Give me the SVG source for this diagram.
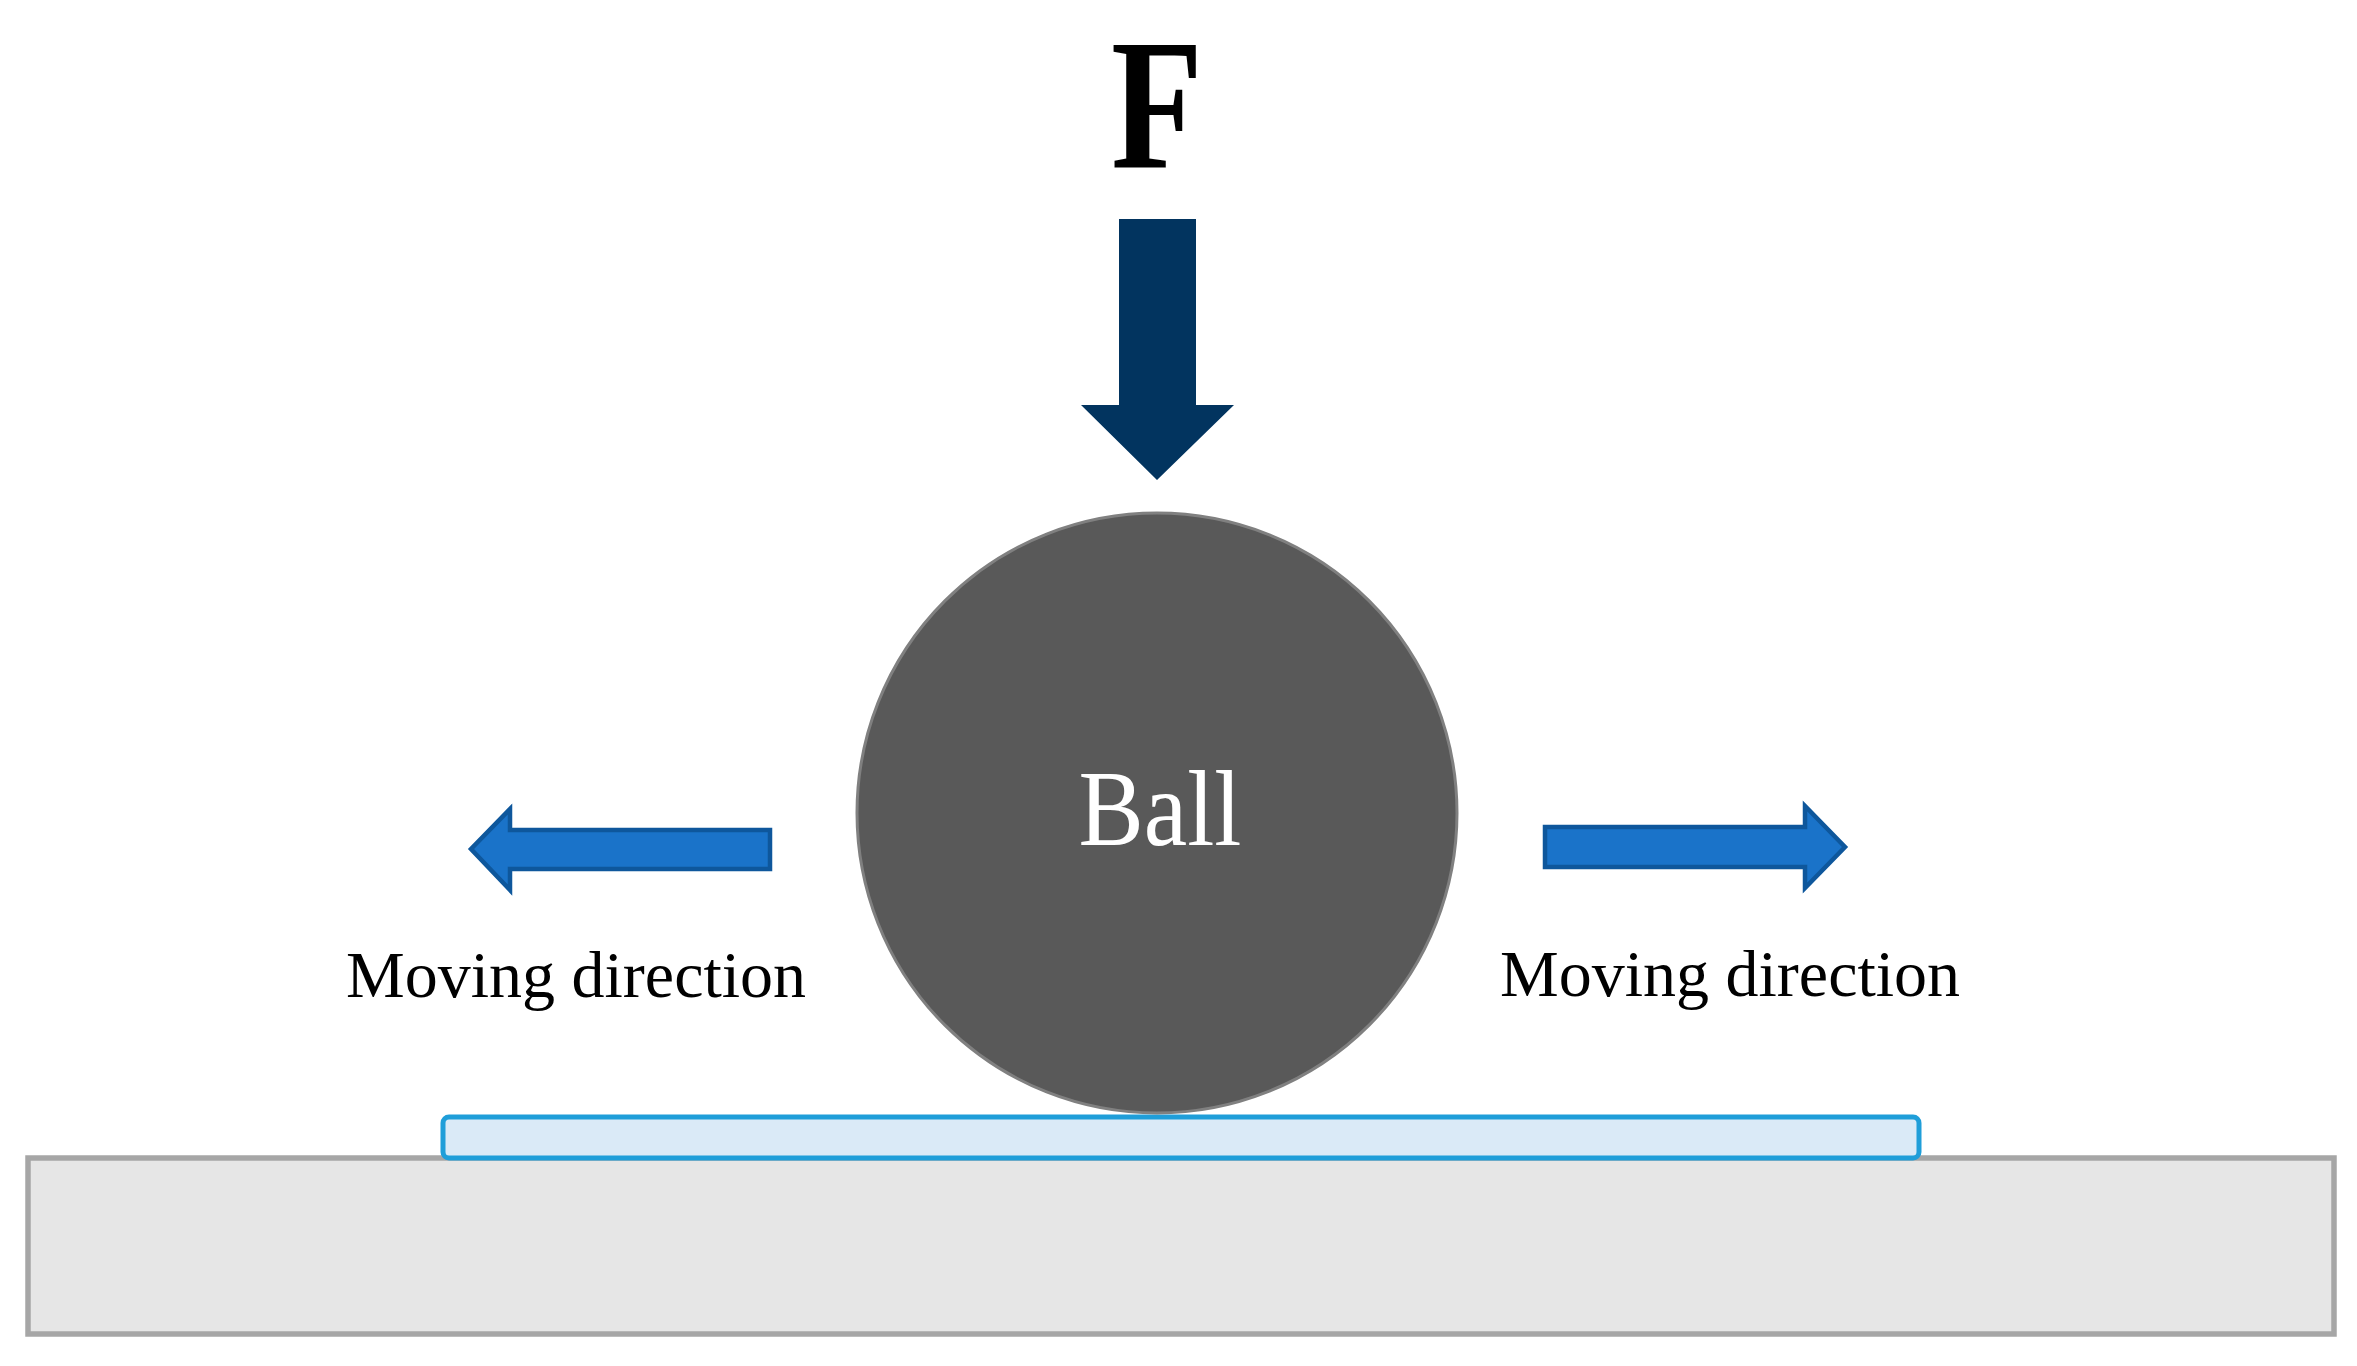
<svg xmlns="http://www.w3.org/2000/svg" width="2357" height="1366" viewBox="0 0 2357 1366">
<style>
.lbl{font-family:"Liberation Serif","Times New Roman",serif;font-size:66px;fill:#000}
.dir{fill:#1a73c9;stroke:#0e579c;stroke-width:4.5;stroke-linejoin:miter}
</style>
<rect width="2357" height="1366" fill="#fff"/>
<g id="ground"><rect x="28" y="1158" width="2306" height="176" fill="#e6e6e6" stroke="#a6a6a6" stroke-width="5.5"/></g>
<g id="layer"><rect x="443" y="1117" width="1476" height="41" rx="6" fill="#daeaf7" stroke="#1f9ed9" stroke-width="5"/></g>
<g id="ball">
<circle cx="1157" cy="813" r="300" fill="#595959" stroke="#808080" stroke-width="3"/>
<text x="1160" y="845" text-anchor="middle" font-family="Liberation Serif, serif" font-size="108" fill="#fff" textLength="163" lengthAdjust="spacingAndGlyphs">Ball</text>
</g>
<g id="force">
<text x="1157" y="167" text-anchor="middle" font-family="Liberation Serif, serif" font-weight="bold" font-size="186" fill="#000" textLength="92" lengthAdjust="spacingAndGlyphs">F</text>
</g>
<g id="connectors">
<polygon id="force-arrow" points="1119,219 1196,219 1196,405 1234,405 1157,480 1081,405 1119,405" fill="#02345f"/>
<polygon id="left-arrow" class="dir" points="770,830 510,830 510,809 471,849 510,890 510,869 770,869"/>
<polygon id="right-arrow" class="dir" points="1545,827 1805,827 1805,806 1845,847 1805,888 1805,867 1545,867"/>
</g>
<g id="labels">
<text class="lbl" x="346" y="997">Moving direction</text>
<text class="lbl" x="1500" y="996">Moving direction</text>
</g>
</svg>
